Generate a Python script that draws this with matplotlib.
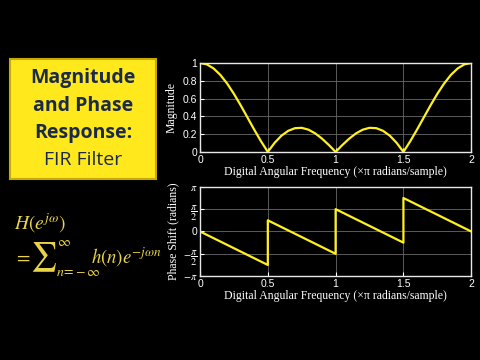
import numpy as np
import matplotlib
matplotlib.use("Agg")
import matplotlib.pyplot as plt
from matplotlib.patches import Rectangle

# Frequency axis (units of pi rad/sample)
freq = [0.00, 0.05, 0.10, 0.15, 0.20, 0.25, 0.30, 0.35, 0.40, 0.45,
        0.50, 0.55, 0.60, 0.65, 0.70, 0.75, 0.80, 0.85, 0.90, 0.95,
        1.00, 1.05, 1.10, 1.15, 1.20, 1.25, 1.30, 1.35, 1.40, 1.45,
        1.50, 1.55, 1.60, 1.65, 1.70, 1.75, 1.80, 1.85, 1.90, 1.95, 2.00]
magnitude = [1.000, 0.985, 0.939, 0.866, 0.769, 0.653, 0.524, 0.387, 0.250, 0.119,
             0.000, 0.102, 0.182, 0.237, 0.267, 0.271, 0.250, 0.208, 0.149, 0.078,
             0.000, 0.078, 0.149, 0.208, 0.250, 0.271, 0.267, 0.237, 0.182, 0.102,
             0.000, 0.119, 0.250, 0.387, 0.524, 0.653, 0.769, 0.866, 0.939, 0.985, 1.000]

# Phase (units of pi radians) at breakpoints
phase_freq = [0.0, 0.5, 0.5, 1.0, 1.0, 1.5, 1.5, 2.0]
phase = [0.0, -0.75, 0.25, -0.5, 0.5, -0.25, 0.75, 0.0]

mag_ticks = [0, 0.2, 0.4, 0.6, 0.8, 1]
mag_labels = ["0", "0.2", "0.4", "0.6", "0.8", "1"]
freq_ticks = [0, 0.5, 1, 1.5, 2]
freq_labels = ["0", "0.5", "1", "1.5", "2"]
phase_ticks = [-1, -0.5, 0, 0.5, 1]
phase_labels = [r"$-\pi$", r"$-\dfrac{\pi}{2}$", "0", r"$\dfrac{\pi}{2}$", r"$\pi$"]

title_lines = ["Magnitude", "and Phase", "Response:", "FIR Filter"]

BG = "black"
LINE = "#FFF020"
FG = "white"
GRID = "#6a6a6a"

plt.rcParams["mathtext.fontset"] = "stix"

fig = plt.figure(figsize=(4.8, 3.6), dpi=100, facecolor=BG)

def style(ax):
    ax.set_facecolor(BG)
    for s in ax.spines.values():
        s.set_color("#e8e8e8")
        s.set_linewidth(1.0)
    ax.tick_params(colors=FG, direction="in", length=3, labelsize=7.5, pad=2)
    for lab in ax.get_xticklabels() + ax.get_yticklabels():
        lab.set_fontfamily("Liberation Sans")
    ax.grid(True, color=GRID, linewidth=0.6)
    ax.set_axisbelow(True)

ax1 = fig.add_axes([0.4167, 0.578, 0.565, 0.247])
ax1.plot(freq, magnitude, color=LINE, lw=1.6)
ax1.set_xlim(0, 2)
ax1.set_ylim(0, 1)
ax1.set_xticks(freq_ticks, freq_labels)
ax1.set_yticks(mag_ticks, mag_labels)
style(ax1)
ax1.set_xlabel("Digital Angular Frequency (×π radians/sample)", color=FG,
               family="Liberation Serif", fontsize=8.5, labelpad=1)
ax1.set_ylabel("Magnitude", color=FG, family="Liberation Serif", fontsize=8.5, labelpad=4)

ax2 = fig.add_axes([0.4167, 0.233, 0.565, 0.248])
ax2.plot(phase_freq, phase, color=LINE, lw=1.6)
ax2.set_xlim(0, 2)
ax2.set_ylim(-1, 1)
ax2.set_xticks(freq_ticks, freq_labels)
ax2.set_yticks(phase_ticks, phase_labels)
style(ax2)
for lab in ax2.get_yticklabels():
    lab.set_fontsize(7.5)
ax2.set_xlabel("Digital Angular Frequency (×π radians/sample)", color=FG,
               family="Liberation Serif", fontsize=8.5, labelpad=1)
ax2.set_ylabel("Phase Shift (radians)", color=FG, family="Liberation Serif", fontsize=8.5, labelpad=2)

# Yellow title box
box = Rectangle((10 / 480, 1 - 179 / 360), 146 / 480, 120 / 360, transform=fig.transFigure,
                facecolor="#FFE81C", edgecolor="#C9A800", linewidth=1.5)
fig.patches.append(box)
ys = [78, 106, 133, 160]
for i, (t, y) in enumerate(zip(title_lines, ys)):
    fig.text(83 / 480, 1 - y / 360, t, ha="center", va="center", color="#1C2A4A",
             family="Open Sans", fontsize=14, fontweight="bold" if i < 3 else "normal")

# Formula
FCOL = "#E8D34A"
def ft(x, y, s, size, ha="left"):
    fig.text(x / 480, 1 - y / 360, s, color=FCOL, fontsize=size, ha=ha, va="center")

ft(14, 223, r"$H\left(e^{j\omega}\right)$", 14)
ft(14, 257, r"$=$", 14)
ft(30, 257, r"$\sum$", 21)
ft(57, 242, r"$\infty$", 10)
ft(56, 272, r"$n\!=\!-\infty$", 10)
ft(91, 257, r"$h(n)e^{-j\omega n}$", 13.5)

fig.savefig("out.png", dpi=100, facecolor=BG)
